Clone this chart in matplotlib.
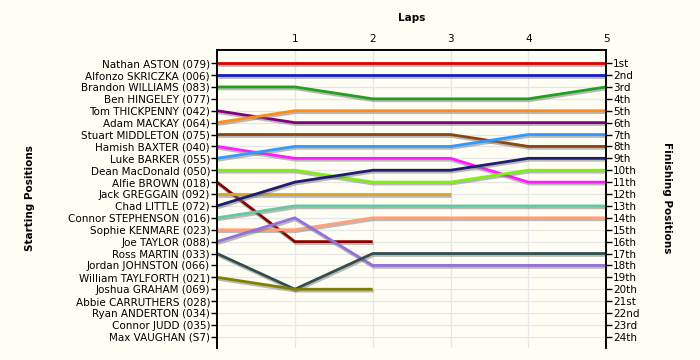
import matplotlib
matplotlib.use("Agg")
import matplotlib.pyplot as plt
import matplotlib.patheffects as pe

# riders in starting order (row 1 = pole)
riders = ["Nathan ASTON (079)", "Alfonzo SKRICZKA (006)", "Brandon WILLIAMS (083)",
          "Ben HINGELEY (077)", "Tom THICKPENNY (042)", "Adam MACKAY (064)",
          "Stuart MIDDLETON (075)", "Hamish BAXTER (040)", "Luke BARKER (055)",
          "Dean MacDonald (050)", "Alfie BROWN (018)", "Jack GREGGAIN (092)",
          "Chad LITTLE (072)", "Connor STEPHENSON (016)", "Sophie KENMARE (023)",
          "Joe TAYLOR (088)", "Ross MARTIN (033)", "Jordan JOHNSTON (066)",
          "William TAYLFORTH (021)", "Joshua GRAHAM (069)", "Abbie CARRUTHERS (028)",
          "Ryan ANDERTON (034)", "Connor JUDD (035)", "Max VAUGHAN (S7)"]

finish_labels = ["1st", "2nd", "3rd", "4th", "5th", "6th", "7th", "8th", "9th", "10th",
                 "11th", "12th", "13th", "14th", "15th", "16th", "17th", "18th", "19th",
                 "20th", "21st", "22nd", "23rd", "24th"]

laps = [0, 1, 2, 3, 4, 5]

# position at each lap (start, lap1..lap5); shorter lists = retired
aston = [1, 1, 1, 1, 1, 1]
skriczka = [2, 2, 2, 2, 2, 2]
williams = [3, 3, 4, 4, 4, 3]
thickpenny = [5, 6, 6, 6, 6, 6]
mackay = [6, 5, 5, 5, 5, 5]
middleton = [7, 7, 7, 7, 8, 8]
baxter = [8, 9, 9, 9, 11, 11]
barker = [9, 8, 8, 8, 7, 7]
macdonald = [10, 10, 11, 11, 10, 10]
brown = [11, 16, 16]
greggain = [12, 12, 12, 12]
little = [13, 11, 10, 10, 9, 9]
stephenson = [14, 13, 13, 13, 13, 13]
kenmare = [15, 15, 14, 14, 14, 14]
taylor = [16, 14, 18, 18, 18, 18]
martin = [17, 20, 17, 17, 17, 17]
taylforth = [19, 20, 20]

series = [aston, skriczka, williams, thickpenny, mackay, middleton, baxter, barker,
          macdonald, brown, greggain, little, stephenson, kenmare, taylor, martin, taylforth]
colors = ["#E00000", "#1A1AC8", "#22A022", "#800080", "#FF8C1A", "#8B4513", "#FF1AFF",
          "#3399FF", "#80EE10", "#8B0000", "#DAA520", "#1E1E6E", "#66C8A0", "#FFA07A",
          "#9370DB", "#2F4F4F", "#808000"]

bg = "#FFFEF5"
fig = plt.figure(figsize=(7, 3.6), dpi=100, facecolor=bg)
ax = fig.add_axes([0.31, 0.033, 0.556, 0.828], facecolor=bg)

shadow = [pe.SimpleLineShadow(offset=(0.6, -1.4), shadow_color="#777777", alpha=0.5), pe.Normal()]
for pos, c in zip(series, colors):
    ax.plot(laps[:len(pos)], pos, color=c, lw=2, solid_capstyle="butt",
            path_effects=shadow, zorder=3)

rows = list(range(1, len(riders) + 1))
ax.set_xlim(0, 5)
ax.set_ylim(24.95, -0.1)

ax.set_yticks(rows)
ax.set_yticklabels(riders, fontsize=7.5)
ax.tick_params(axis="y", length=4, width=1, pad=1, colors="black")

ax2 = ax.twinx()
ax2.set_ylim(ax.get_ylim())
ax2.set_yticks(rows)
ax2.set_yticklabels(finish_labels, fontsize=7.5)
ax2.tick_params(axis="y", length=4, width=1, pad=1)

ax.xaxis.tick_top()
ax.xaxis.set_label_position("top")
ax.set_xticks([1, 2, 3, 4, 5])
ax.set_xticklabels(["1", "2", "3", "4", "5"], fontsize=7.5)
ax.tick_params(axis="x", length=0, pad=4)
ax.set_xlabel("Laps", fontsize=7.5, fontweight="bold", labelpad=10)

ax.grid(True, color="#E6E6E6", lw=1, zorder=0)
ax.set_axisbelow(True)

for a in (ax, ax2):
    a.spines["bottom"].set_visible(False)
    for s in ("left", "right", "top"):
        a.spines[s].set_linewidth(1.2)

fig.text(0.043, 0.45, "Starting Positions", rotation=90, fontsize=7.5,
         fontweight="bold", ha="center", va="center")
fig.text(0.953, 0.45, "Finishing Positions", rotation=-90, fontsize=7.5,
         fontweight="bold", ha="center", va="center")

fig.savefig("out.png", dpi=100, facecolor=bg)
